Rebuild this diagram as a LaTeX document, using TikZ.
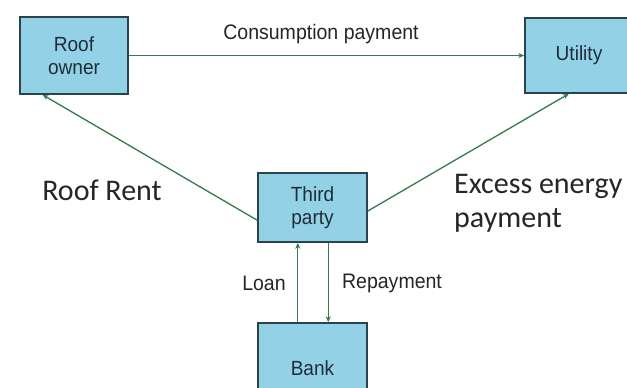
\documentclass[tikz,border=0pt]{standalone}
\usepackage{fontspec}
\newfontfamily\arialf[FakeStretch=0.93]{Liberation Sans}
\newfontfamily\calf{Carlito}
\usetikzlibrary{calc,arrows.meta}
\definecolor{boxfill}{HTML}{93D2E6}
\definecolor{boxline}{HTML}{2B434D}
\definecolor{boxtext}{HTML}{1E2D38}
\definecolor{flow}{HTML}{357A4A}
\definecolor{lbl}{HTML}{262626}
\tikzset{
  entity/.style={draw=boxline, line width=1.6pt, fill=boxfill, text=boxtext,
    align=center, inner sep=0pt, font=\arialf\fontsize{20.5}{22.5}\selectfont},
  flowline/.style={draw=flow, line width=1.3pt, -{Stealth[length=6pt,width=5pt]}},
  smalllbl/.style={text=lbl, font=\arialf\fontsize{21}{23}\selectfont, inner sep=0pt},
  biglbl/.style={text=lbl, font=\calf\fontsize{30}{34}\selectfont, inner sep=0pt, align=left}
}
\begin{document}
\begin{tikzpicture}[x=1pt,y=-1pt]
\useasboundingbox (0,0) rectangle (627,388);
\clip (0,0) rectangle (627,388);
\fill[white] (0,0) rectangle (627,388);
\node[entity, minimum width=108pt, minimum height=77pt] (roof) at (74,55.5) {Roof\\owner};
\node[entity, minimum width=108pt, minimum height=75pt] (util) at (579,55.5) {Utility};
\node[entity, minimum width=109pt, minimum height=69pt] (third) at (312.5,207.5) {Third\\party};
\node[entity, minimum width=109pt, minimum height=90pt] (bank) at (312.5,368) {Bank};
% connectors
\draw[flowline] (roof.east) -- (util.west);
\draw[flowline] ($(third.north west)!0.68!(third.south west)$) -- ($(roof.south west)!0.213!(roof.south east)$);
\draw[flowline] ($(third.north east)!0.55!(third.south east)$) -- ($(util.south west)!0.407!(util.south east)$);
\draw[flowline] ($(bank.north west)!0.367!(bank.north east)$) -- ($(third.south west)!0.367!(third.south east)$);
\draw[flowline] ($(third.south west)!0.642!(third.south east)$) -- ($(bank.north west)!0.642!(bank.north east)$);
% labels
\node[smalllbl] (lcons) at (321,34) {Consumption payment};
\node[smalllbl] (lloan) at (264,283) {Loan};
\node[smalllbl] (lrep) at (392,283) {Repayment};
\node[biglbl] (lroof) at (102,190) {Roof Rent};
\node[biglbl, anchor=north west] (lexc) at (454,174) {Excess energy\\payment};
\end{tikzpicture}
\end{document}
